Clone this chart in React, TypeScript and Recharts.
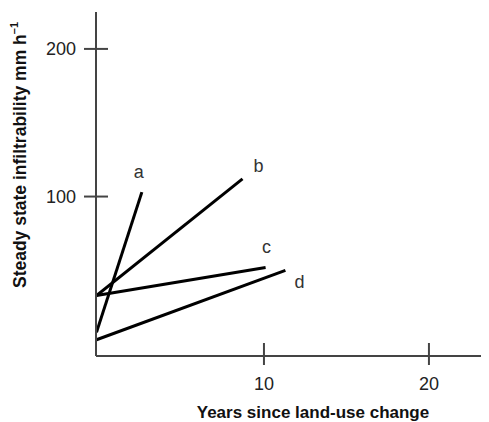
import React from 'react';
import { LineChart, Line, XAxis, YAxis, Label } from 'recharts';

// each series is a straight segment: start and end
const seriesNames = ['a', 'b', 'c', 'd'];
const startYears = [-0.15, -0.15, -0.15, -0.15];
const startValues = [8, 33, 33, 3];
const endYears = [2.6, 8.7, 10.1, 11.3];
const endValues = [103, 112, 52, 50];

const xTicks = [10, 20];
const yTicks = [100, 200];

// where each letter sits relative to the end of its line
const labelOffsets: Record<string, [number, number]> = {
  a: [-3, -20],
  b: [16, -13],
  c: [1, -20],
  d: [14, 12],
};

const series = seriesNames.map((name, i) => ({
  name,
  data: [
    { year: startYears[i], value: startValues[i] },
    { year: endYears[i], value: endValues[i] },
  ],
}));

const FONT = 'Liberation Sans, Arial, sans-serif';

const XTick = (props: any) => {
  const { x, y, payload } = props;
  return (
    <g>
      <line x1={x} y1={y - 13} x2={x} y2={y + 9} stroke="#444" strokeWidth={2} />
      <text x={x} y={y + 28} textAnchor="middle" dominantBaseline="central" fontSize={18} fill="#222" fontFamily={FONT}>
        {payload.value}
      </text>
    </g>
  );
};

const YTick = (props: any) => {
  const { x, y, payload } = props;
  return (
    <g>
      <line x1={x - 12} y1={y} x2={x + 12} y2={y} stroke="#444" strokeWidth={2} />
      <text x={x - 20} y={y} textAnchor="end" dominantBaseline="central" fontSize={18} fill="#222" fontFamily={FONT}>
        {payload.value}
      </text>
    </g>
  );
};

const makeEndLabel = (name: string) => (props: any) => {
  const { x, y, index } = props;
  if (index !== 1) return null;
  const [dx, dy] = labelOffsets[name];
  return (
    <text x={x + dx} y={y + dy} textAnchor="middle" dominantBaseline="central" fontSize={18} fill="#333" fontFamily={FONT}>
      {name}
    </text>
  );
};

export default function App() {
  return (
    <LineChart width={481} height={414} margin={{ top: 4, right: 0, bottom: 0, left: 0 }}>
      <XAxis
        type="number"
        dataKey="year"
        domain={[-0.18, 23.64]}
        ticks={xTicks}
        height={66}
        axisLine={{ stroke: '#444', strokeWidth: 2 }}
        tickLine={false}
        tickSize={0}
        tickMargin={0}
        tick={<XTick />}
        allowDataOverflow
      >
        <Label
          content={() => (
            <text x={305} y={404} textAnchor="middle" dominantBaseline="central" fontSize={17} fontWeight="bold" fill="#111" fontFamily={FONT}>
              Years since land-use change
            </text>
          )}
        />
      </XAxis>
      <YAxis
        type="number"
        dataKey="value"
        domain={[-8, 225]}
        ticks={yTicks}
        width={88}
        axisLine={{ stroke: '#444', strokeWidth: 2 }}
        tickLine={false}
        tickSize={0}
        tickMargin={0}
        tick={<YTick />}
        allowDataOverflow
      >
        <Label
          content={() => (
            <text
              x={12}
              y={147}
              transform="rotate(-90 12 147)"
              textAnchor="middle"
              dominantBaseline="central"
              fontSize={17.5}
              fontWeight="bold"
              fill="#111"
              fontFamily={FONT}
            >
              Steady state infiltrability mm h
              <tspan dy={-6} fontSize={11}>–1</tspan>
            </text>
          )}
        />
      </YAxis>
      {series.map((s) => (
        <Line
          key={s.name}
          data={s.data}
          dataKey="value"
          type="linear"
          stroke="#000"
          strokeWidth={3}
          dot={false}
          activeDot={false}
          label={makeEndLabel(s.name)}
          isAnimationActive={false}
        />
      ))}
    </LineChart>
  );
}
